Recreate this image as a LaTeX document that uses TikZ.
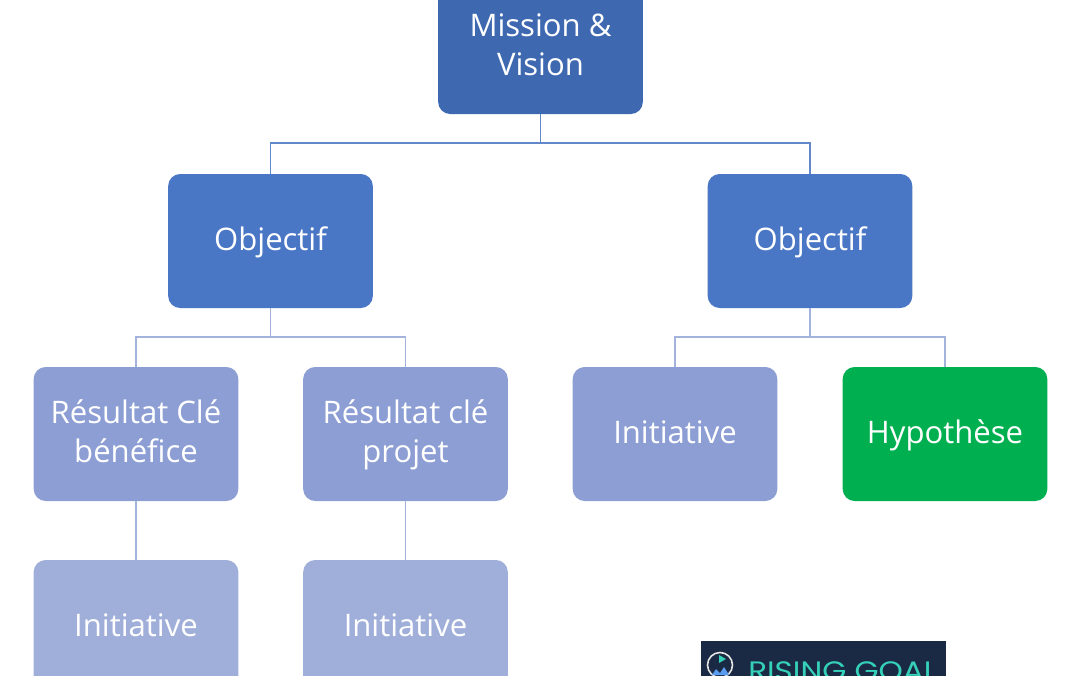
\documentclass[tikz,border=0pt]{standalone}
\usepackage{fontspec}
\setmainfont{Open Sans}
\newfontfamily\logofont{Poppins}
\definecolor{rootblue}{HTML}{3E69B1}
\definecolor{objblue}{HTML}{4A76C6}
\definecolor{krblue}{HTML}{8C9ED3}
\definecolor{iniblue}{HTML}{A0AFDA}
\definecolor{hypgreen}{HTML}{00B050}
\definecolor{linedark}{HTML}{6288CC}
\definecolor{linelight}{HTML}{A3B3DC}
\definecolor{logobg}{HTML}{1A2A44}
\definecolor{logoteal}{HTML}{35D0B8}
\definecolor{logosky}{HTML}{5B9BF0}
\newcommand\linestrut{\rule[-6.6pt]{0pt}{26.9pt}}
\tikzset{
  box/.style={rounded corners=9pt, minimum width=153.5pt, minimum height=100.5pt, align=center,
    text=white, font=\fontsize{23.3pt}{29.2pt}\selectfont, inner sep=0pt},
  rootbox/.style={box, fill=rootblue},
  objbox/.style={box, fill=objblue},
  krbox/.style={box, fill=krblue},
  inibox/.style={box, fill=iniblue},
  hypbox/.style={box, fill=hypgreen},
  conn/.style={line width=1.4pt, draw=linedark},
  connlight/.style={line width=1.4pt, draw=linelight},
}
\begin{document}
\begin{tikzpicture}[x=0.75pt,y=-0.75pt]
\useasboundingbox (0,0) rectangle (1080,675);
\clip (0,0) rectangle (1080,675);
\node[rootbox] (root) at (540.5,47) {\linestrut Mission \&\\\linestrut Vision};
\node[objbox] (oa) at (270.5,241) {\linestrut Objectif};
\node[objbox] (ob) at (810,241) {\linestrut Objectif};
\node[krbox] (ka) at (136,434) {\linestrut Résultat Clé\\\linestrut bénéfice};
\node[krbox] (kb) at (405.5,434) {\linestrut Résultat clé\\\linestrut projet};
\node[krbox] (kc) at (675,434) {\linestrut Initiative};
\node[hypbox] (kd) at (945,434) {\linestrut Hypothèse};
\node[inibox] (ia) at (136,627) {\linestrut Initiative};
\node[inibox] (ib) at (405.5,627) {\linestrut Initiative};
\draw[conn] (root.south) -- ++(0,29) -| (oa.north);
\draw[conn] (root.south) -- ++(0,29) -| (ob.north);
\draw[connlight] (oa.south) -- ++(0,29) -| (ka.north);
\draw[connlight] (oa.south) -- ++(0,29) -| (kb.north);
\draw[connlight] (ob.south) -- ++(0,29) -| (kc.north);
\draw[connlight] (ob.south) -- ++(0,29) -| (kd.north);
\draw[connlight] (ka.south) -- (ia.north);
\draw[connlight] (kb.south) -- (ib.north);
% logo
\fill[logobg] (701,641) rectangle (946,700);
\draw[white!90!black, line width=1.2pt] (720,665) circle (12.5);
\fill[logoteal] (719,655) -- (726,659) -- (719,663) -- cycle;
\fill[logosky] (712,675) -- (716,669) -- (720,673) -- (724,667) -- (729,675) -- cycle;
\node[anchor=base west, inner sep=0pt, text=logoteal, font=\logofont\fontsize{20pt}{20pt}\selectfont, xscale=1.16] (logotext) at (748,680) {RISING GOAL};
\end{tikzpicture}
\end{document}
